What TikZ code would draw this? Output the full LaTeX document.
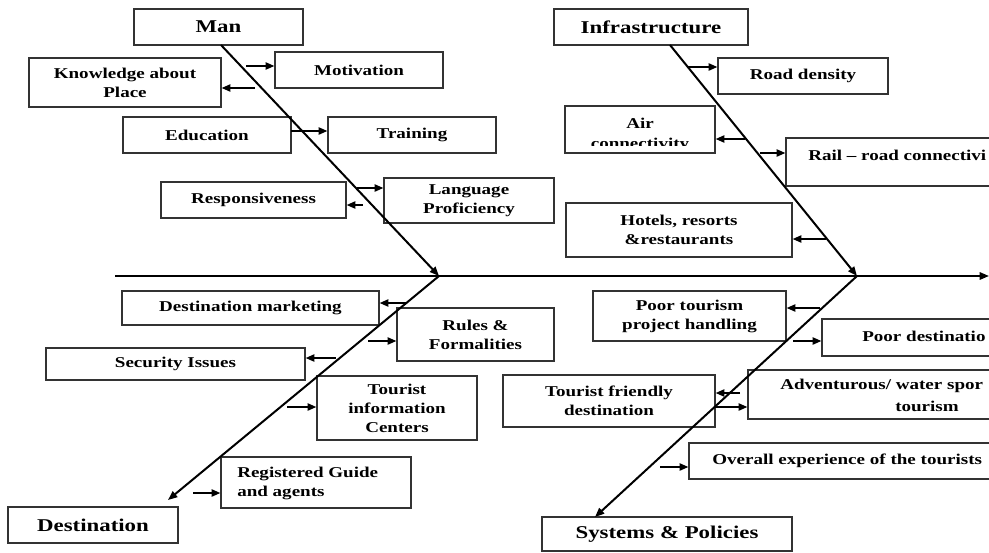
\documentclass[tikz,border=0pt]{standalone}
\usepackage{fontspec}
\setmainfont{Liberation Serif}[FakeStretch=1.27]
\usetikzlibrary{arrows.meta}
\newcommand\bodyf{\fontsize{11.25}{14.25}\selectfont\bfseries}
\newcommand\headf{\fontsize{13.5}{16}\selectfont\bfseries}
\newcommand\bx[7]{%
  \pgfmathsetmacro\bxw{(#4-#2)*0.75}%
  \pgfmathsetmacro\bxh{(#5-#3)*0.75}%
  \node[#6,minimum width=\bxw pt,minimum height=\bxh pt] (#1) at ({(#2+#4)/2},{(#3+#5)/2}) {#7};}
\begin{document}
\begin{tikzpicture}[x=0.75pt,y=-0.75pt,
  box/.style={draw=black!80,line width=1.1pt,inner sep=0pt,align=center,font=\bodyf},
  hbox/.style={box,font=\headf},
  lbl/.style={inner sep=0pt,font=\bodyf,anchor=west},
  bone/.style={line width=1.5pt,-{Triangle[length=7pt,width=5.5pt]}},
  arr/.style={line width=1.1pt,-{Triangle[length=6.5pt,width=5.5pt]}}]
\useasboundingbox (0,0) rectangle (989,553);
\clip (0,0) rectangle (989,553);
\fill[white] (0,0) rectangle (989,553);

% ---- boxes ----
\bx{man}{134}{9}{303}{45}{hbox}{Man}
\bx{inf}{554}{9}{748}{45}{hbox}{Infrastructure}
\bx{dest}{8}{507}{178}{543}{hbox}{Destination}
\bx{sys}{542}{517}{792}{551}{hbox}{Systems \& Policies}

\bx{mot}{275}{52}{443}{88}{box}{Motivation}
\bx{know}{29}{58}{221}{107}{box}{Knowledge about\\Place}
\bx{edu}{123}{117}{291}{153}{box}{Education}
\bx{train}{328}{117}{496}{153}{box}{Training}
\bx{resp}{161}{182}{346}{218}{box}{Responsiveness}
\bx{lang}{384}{178}{554}{223}{box}{Language\\Proficiency}

\bx{road}{718}{58}{888}{94}{box}{Road density}
\bx{air}{565}{106}{715}{153}{box}{}
\begin{scope}
  \clip (566,107) rectangle (714,145);
  \node[inner sep=0pt,font=\bodyf,anchor=base] (airt1) at (640,128) {Air};
  \node[inner sep=0pt,font=\bodyf,anchor=base] (airt2) at (640,148) {connectivity};
\end{scope}
\bx{rail}{786}{138}{1000}{186}{box}{}
\node[lbl] (railt) at (808,155) {Rail – road connectivi};
\bx{hotel}{566}{203}{792}{257}{box}{Hotels, resorts\\\&restaurants}

\bx{dmark}{122}{291}{379}{325}{box}{Destination marketing}
\bx{rules}{397}{308}{554}{361}{box}{Rules \&\\Formalities}
\bx{sec}{46}{348}{305}{380}{box}{Security Issues}
\bx{tinfo}{317}{376}{477}{440}{box}{Tourist\\information\\Centers}
\bx{reg}{221}{457}{411}{508}{box}{}
\node[lbl,align=left] (regt) at (237,483) {Registered Guide\\and agents};

\bx{poort}{593}{291}{786}{341}{box}{Poor tourism\\project handling}
\bx{poord}{822}{319}{1000}{356}{box}{}
\node[lbl] (poordt) at (862,336) {Poor destinatio};
\bx{tfd}{503}{375}{715}{427}{box}{Tourist friendly\\destination}
\bx{adv}{748}{370}{1000}{419}{box}{}
\node[lbl] (advt) at (780,386) {Adventurous/ water spor};
\node[inner sep=0pt,font=\bodyf] (advt2) at (927,406) {tourism};
\bx{over}{689}{443}{1000}{479}{box}{}
\node[lbl] (overt) at (712,461) {Overall experience of the tourists};

% ---- spine and bones ----
\coordinate (sp0) at (115,276);
\coordinate (sp1) at (989,276);
\coordinate (j1) at (439,276);
\coordinate (j2) at (857,276);
\coordinate (mb) at (221,45);
\coordinate (ib) at (670,45);
\coordinate (dt) at (168,500);
\coordinate (st) at (595,517);
\draw[bone] (sp0) -- (sp1);
\draw[bone] (mb) -- (j1);
\draw[bone] (ib) -- (j2);
\draw[bone] (j1) -- (dt);
\draw[bone] (j2) -- (st);

% ---- small arrows ----
\coordinate (a1) at (246,66);  \draw[arr] (a1) -- (a1 -| mot.west);
\coordinate (a2) at (255,88);  \draw[arr] (a2) -- (a2 -| know.east);
\coordinate (a3) at (291,131); \draw[arr] (a3) -- (a3 -| train.west);
\coordinate (a4) at (357,188); \draw[arr] (a4) -- (a4 -| lang.west);
\coordinate (a5) at (363,205); \draw[arr] (a5) -- (a5 -| resp.east);

\coordinate (b1) at (688,67);  \draw[arr] (b1) -- (b1 -| road.west);
\coordinate (b2) at (745,139); \draw[arr] (b2) -- (b2 -| air.east);
\coordinate (b3) at (760,153); \draw[arr] (b3) -- (b3 -| rail.west);
\coordinate (b4) at (826,239); \draw[arr] (b4) -- (b4 -| hotel.east);

\coordinate (c1) at (407,303); \draw[arr] (c1) -- (c1 -| dmark.east);
\coordinate (c2) at (368,341); \draw[arr] (c2) -- (c2 -| rules.west);
\coordinate (c3) at (336,358); \draw[arr] (c3) -- (c3 -| sec.east);
\coordinate (c4) at (287,407); \draw[arr] (c4) -- (c4 -| tinfo.west);
\coordinate (c5) at (193,493); \draw[arr] (c5) -- (c5 -| reg.west);

\coordinate (d1) at (820,308); \draw[arr] (d1) -- (d1 -| poort.east);
\coordinate (d2) at (793,341); \draw[arr] (d2) -- (d2 -| poord.west);
\coordinate (d3) at (740,393); \draw[arr] (d3) -- (d3 -| tfd.east);
\coordinate (d4) at (715,407); \draw[arr] (d4) -- (d4 -| adv.west);
\coordinate (d5) at (660,467); \draw[arr] (d5) -- (d5 -| over.west);
\end{tikzpicture}
\end{document}
